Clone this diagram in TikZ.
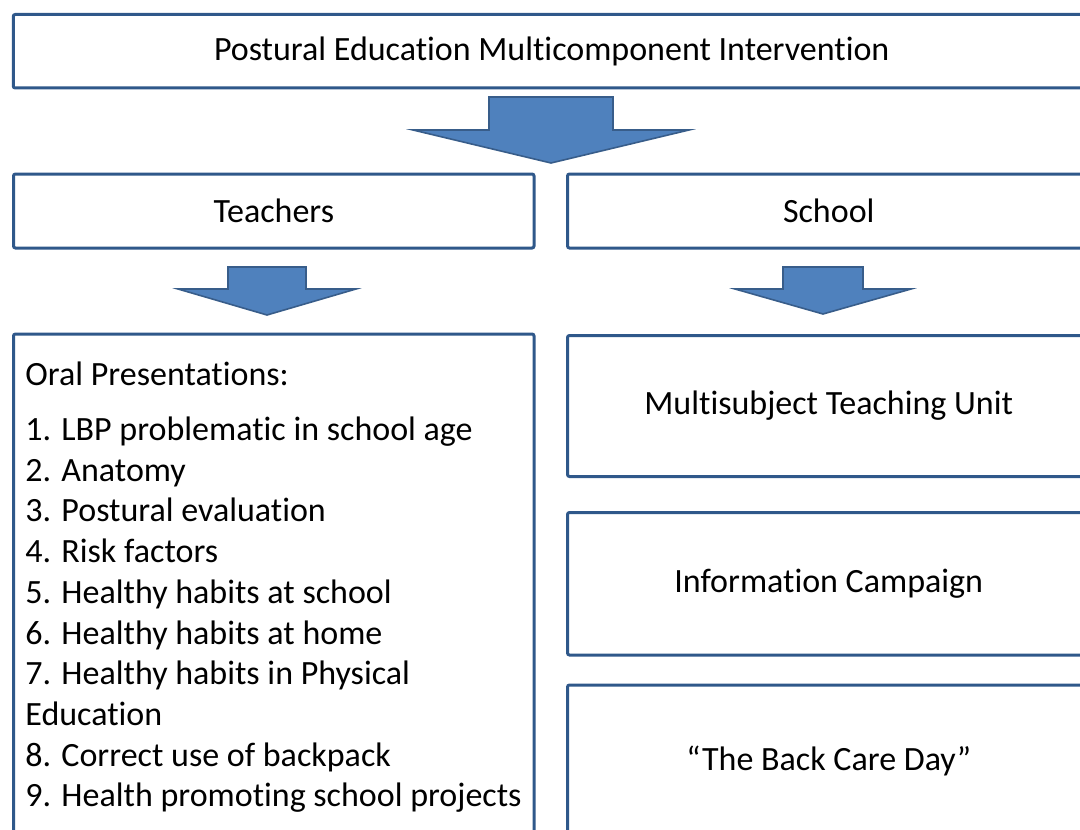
\documentclass[tikz,border=0pt]{standalone}
\usepackage{fontspec}
\setmainfont{Carlito}[Ligatures=NoCommon]
\usetikzlibrary{positioning,calc}
\definecolor{boxblue}{RGB}{47,88,138}
\definecolor{arrowfill}{RGB}{79,129,189}
\definecolor{arrowline}{RGB}{56,93,138}
\tikzstyle{box} = [rectangle, draw=boxblue, line width=1.5pt, rounded corners=1pt, fill=white, inner sep=0pt, text centered, font=\fontsize{17}{20.35}\selectfont]
\tikzstyle{blockarrow} = [draw=arrowline, fill=arrowfill, line width=0.8pt, line join=miter]
% downward block arrow: centre x, top y, shaft half width, head base y, head half width, tip y
\newcommand{\blockdown}[6]{%
  \draw[blockarrow] (#1-#3,#2) -- (#1+#3,#2) -- (#1+#3,#4) -- (#1+#5,#4) -- (#1,#6) -- (#1-#5,#4) -- (#1-#3,#4) -- cycle;}

\begin{document}
\begin{tikzpicture}[x=0.5pt,y=-0.5pt]
\useasboundingbox (0,0) rectangle (1080,829);
\clip (0,0) rectangle (1080,829);

% top level
\node[box, minimum width=538.5pt, minimum height=36.75pt] (pemi) at (551.75,51.25) {Postural Education Multicomponent Intervention};
\blockdown{551}{97}{62}{130}{138}{163}

% the two branches
\node[box, minimum width=260.25pt, minimum height=37pt] (teachers) at (273.75,211) {Teachers};
\node[box, minimum width=261.25pt, minimum height=37pt] (school) at (828.75,211) {School};
\blockdown{267}{267}{39}{289}{89}{315}
\blockdown{823}{267}{40}{289}{88}{314}

% teachers: oral presentations
\node[box, minimum width=260.25pt, minimum height=258pt] (oral) at (273.75,592) {};
\node[anchor=north west, align=left, inner sep=0pt, font=\fontsize{17}{20.35}\selectfont] (oraltext) at (25,361.5) {%
Oral Presentations:\\[7.15pt]
1. LBP problematic in school age\\
2. Anatomy\\
3. Postural evaluation\\
4. Risk factors\\
5. Healthy habits at school\\
6. Healthy habits at home\\
7. Healthy habits in Physical\\
Education\\
8. Correct use of backpack\\
9. Health promoting school projects};

% school: three actions
\node[box, minimum width=261.25pt, minimum height=70.5pt] (unit) at (828.75,406) {Multisubject Teaching Unit};
\node[box, minimum width=261.25pt, minimum height=71.25pt] (campaign) at (828.75,583.75) {Information Campaign};
\node[box, minimum width=261.25pt, minimum height=75.5pt] (backday) at (828.75,760.5) {``The Back Care Day''};
\end{tikzpicture}
\end{document}
